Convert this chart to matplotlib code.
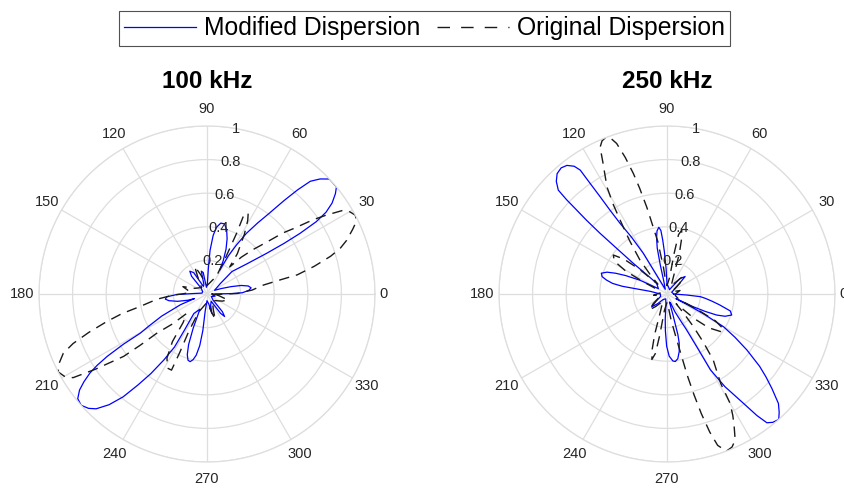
import numpy as np
import matplotlib.pyplot as plt
from matplotlib.lines import Line2D

plt.rcParams['font.family'] = ['Liberation Sans', 'DejaVu Sans']

# directivity patterns, (angle in degrees, normalised amplitude), in plotting order
mod_100 = [(0, 0.03), (1, 0.15), (2, 0.21), (5, 0.25), (8, 0.265), (11, 0.25), (14, 0.21),
           (17, 0.15), (21, 0.09), (26, 0.05), (38, 0.1), (42, 0.2), (37, 0.3), (34.3, 0.43),
           (33.3, 0.55), (33.1, 0.66), (33.5, 0.78), (34.5, 0.86), (36, 0.92), (38, 0.97),
           (39.6, 1.0), (41.5, 1.0), (43.2, 1.0), (45.5, 0.96), (47.5, 0.91), (49, 0.82),
           (50.5, 0.72), (52.5, 0.6), (54.5, 0.52), (57, 0.43), (59, 0.34), (60.8, 0.26),
           (61.8, 0.16), (64, 0.22), (67, 0.29), (70, 0.35), (73, 0.4), (76, 0.43), (79, 0.43),
           (82, 0.4), (84, 0.35), (86, 0.26), (87, 0.15), (88, 0.06), (95, 0.04), (100, 0.13),
           (104, 0.14), (108, 0.06), (115, 0.05), (122, 0.15), (127, 0.17), (131, 0.14),
           (135, 0.05), (150, 0.03), (170, 0.03), (178, 0.08), (181, 0.18), (184, 0.24),
           (187, 0.25), (190, 0.23), (194, 0.18), (198, 0.12), (200, 0.08), (202, 0.17),
           (206, 0.3), (209, 0.4), (210.4, 0.46), (211, 0.58), (212, 0.7), (213, 0.78),
           (214, 0.84), (215.5, 0.9), (217, 0.95), (219, 0.99), (221.5, 1.0), (224, 0.98),
           (226, 0.95), (228.5, 0.88), (230.8, 0.79), (232.8, 0.68), (234.8, 0.58),
           (236.8, 0.47), (238.5, 0.37), (238, 0.25), (236, 0.14), (245, 0.1), (248, 0.22),
           (250, 0.32), (252, 0.38), (254, 0.41), (256, 0.415), (258, 0.4), (260, 0.37),
           (262, 0.31), (263.5, 0.22), (264, 0.1), (270, 0.04), (280, 0.06), (284, 0.12),
           (288, 0.07), (300, 0.05), (305, 0.14), (308, 0.17), (311, 0.14), (315, 0.05),
           (330, 0.03), (345, 0.05), (360, 0.03)]

orig_100 = [(350, 0.03), (0, 0.1), (1, 0.18), (5, 0.27), (9, 0.34), (11, 0.45), (12, 0.55),
            (14.5, 0.66), (17, 0.77), (19, 0.84), (21, 0.89), (24, 0.95), (26, 0.99), (28, 1.0),
            (30, 0.98), (31.6, 0.95), (33.5, 0.85), (35, 0.77), (37, 0.65), (38.8, 0.58),
            (41, 0.47), (44, 0.38), (47, 0.3), (50, 0.21), (53, 0.3), (58, 0.42), (61, 0.5),
            (63, 0.54), (65, 0.52), (64, 0.4), (63, 0.25), (62, 0.12), (90, 0.05), (108, 0.12),
            (114, 0.18), (118, 0.12), (130, 0.05), (155, 0.08), (163, 0.15), (168, 0.12),
            (175, 0.1), (180, 0.15), (181.7, 0.2), (186, 0.3), (190.7, 0.41), (193, 0.52),
            (195.4, 0.62), (198, 0.74), (200.3, 0.85), (202.4, 0.925), (205, 0.97),
            (207.6, 1.0), (210, 0.98), (212, 0.94), (214, 0.8), (216.8, 0.62), (217.5, 0.5),
            (218, 0.38), (221, 0.27), (223.6, 0.17), (230, 0.22), (234, 0.35), (238, 0.45),
            (242, 0.5), (245, 0.5), (245, 0.38), (244, 0.25), (245, 0.12), (270, 0.05),
            (285, 0.12), (288, 0.16), (292, 0.1), (310, 0.05), (335, 0.1), (344, 0.13),
            (350, 0.08), (360, 0.05)]

mod_250 = [(0, 0.04), (20, 0.03), (38, 0.08), (44, 0.15), (50, 0.12), (55, 0.05), (60, 0.03),
           (75, 0.04), (90, 0.06), (92, 0.15), (93.5, 0.25), (94.5, 0.32), (95.5, 0.38),
           (97, 0.4), (99, 0.38), (100.5, 0.34), (102, 0.28), (103, 0.18), (104, 0.08),
           (110, 0.03), (118, 0.1), (120.2, 0.28), (122, 0.4), (123.6, 0.505), (124.2, 0.6),
           (124.5, 0.7), (124.8, 0.8), (125, 0.9), (126, 0.94), (127.9, 0.97), (130, 0.98),
           (132.4, 0.97), (134.5, 0.94), (136.3, 0.895), (136.8, 0.82), (137, 0.76),
           (137.5, 0.65), (137.8, 0.54), (137.8, 0.4), (137.7, 0.27), (136, 0.15), (134, 0.09),
           (148, 0.06), (153, 0.18), (156, 0.27), (158, 0.33), (160, 0.38), (162.4, 0.41),
           (165, 0.4), (167, 0.37), (169, 0.33), (170.2, 0.27), (170.4, 0.2), (171, 0.1),
           (180, 0.04), (200, 0.04), (214, 0.08), (220, 0.12), (226, 0.08), (235, 0.04),
           (255, 0.03), (264, 0.06), (266, 0.15), (267.5, 0.22), (269.6, 0.31), (272, 0.37),
           (275, 0.4), (277, 0.405), (279.5, 0.39), (282, 0.35), (284, 0.3), (285, 0.25),
           (286, 0.12), (287, 0.05), (292, 0.06), (294, 0.115), (297, 0.18), (298.6, 0.24),
           (299.5, 0.38), (299.8, 0.52), (302, 0.65), (304.9, 0.79), (306.5, 0.9),
           (307.8, 0.97), (309.5, 0.99), (311.7, 1.0), (313.5, 0.97), (315.5, 0.93),
           (318, 0.84), (320, 0.77), (322, 0.7), (325, 0.58), (327.5, 0.48), (329.9, 0.39),
           (331.5, 0.25), (332.6, 0.12), (332.8, 0.06), (333.5, 0.1), (334, 0.17),
           (335.5, 0.25), (337, 0.32), (339, 0.37), (342, 0.405), (345, 0.39), (348.3, 0.32),
           (351, 0.27), (353.5, 0.23), (355.4, 0.2), (357, 0.12), (359, 0.05), (360, 0.04)]

orig_250 = [(0, 0.05), (15, 0.08), (25, 0.03), (40, 0.1), (48, 0.14), (55, 0.08), (62, 0.05),
            (70, 0.12), (73, 0.25), (75, 0.33), (77, 0.39), (79, 0.36), (80, 0.25), (81, 0.1),
            (90, 0.05), (96, 0.08), (97.6, 0.16), (100, 0.32), (103.1, 0.53), (104.5, 0.65),
            (105.6, 0.745), (107, 0.85), (108.5, 0.945), (110, 0.99), (111.5, 1.0), (113, 0.99),
            (114.5, 0.96), (116, 0.87), (117.5, 0.8), (119.3, 0.73), (121, 0.62), (122.4, 0.52),
            (125, 0.39), (128.5, 0.26), (131, 0.15), (133, 0.08), (135, 0.1), (138, 0.22),
            (141, 0.33), (144, 0.395), (148, 0.37), (151, 0.28), (153, 0.15), (155, 0.06),
            (170, 0.04), (185, 0.08), (195, 0.04), (215, 0.1), (222, 0.14), (228, 0.1),
            (240, 0.05), (250, 0.12), (253, 0.25), (255, 0.34), (257, 0.4), (259, 0.36),
            (260, 0.25), (261, 0.1), (270, 0.05), (276, 0.08), (279, 0.16), (282, 0.28),
            (284, 0.5), (285, 0.62), (286, 0.74), (287.2, 0.86), (288.5, 0.95), (290.7, 1.0),
            (293, 0.99), (295, 0.96), (297, 0.88), (298.5, 0.82), (300, 0.75), (301, 0.62),
            (303, 0.54), (305, 0.48), (307, 0.36), (309, 0.25), (311, 0.15), (313, 0.08),
            (315, 0.1), (318, 0.22), (321, 0.32), (325, 0.39), (328, 0.4), (331, 0.33),
            (333, 0.2), (335, 0.08), (350, 0.05), (360, 0.05)]

titles = ['100 kHz', '250 kHz']
r_ticks = [0.2, 0.4, 0.6, 0.8, 1.0]
r_labels = ['0.2', '0.4', '0.6', '0.8', '1']
theta_ticks = list(range(0, 360, 30))

grid_col = '#dedede'
text_col = '#262626'
dash = (0, (7.5, 5))

fig = plt.figure(figsize=(8.45, 4.88), dpi=100)

W, H = 845, 488
centers = [(207, 294), (667, 294)]
R = 168

for (cx, cy), title, mod, orig in zip(centers, titles, [mod_100, mod_250], [orig_100, orig_250]):
    ax = fig.add_axes([(cx - R) / W, (H - cy - R) / H, 2 * R / W, 2 * R / H], projection='polar')
    t, r = np.array(mod).T
    ax.plot(np.deg2rad(t), r, color='#0000ff', lw=0.9)
    t, r = np.array(orig).T
    ax.plot(np.deg2rad(t), r, color='#1a1a1a', lw=1.0, ls=dash)
    ax.set_rlim(0, 1)
    ax.set_rticks(r_ticks)
    ax.set_yticklabels([])
    ax.set_thetagrids(theta_ticks, [''] * len(theta_ticks))
    ax.grid(color=grid_col, lw=0.9)
    ax.spines['polar'].set_color(grid_col)
    ax.spines['polar'].set_linewidth(0.9)
    # angle labels sit at a fixed radius outside the rim, like MATLAB's polarplot
    for a in theta_ticks:
        lab = str(a)
        ax.text(np.deg2rad(a), 1.05 if len(lab) == 1 else 1.1, lab, ha='center', va='center',
                fontsize=10.5, color=text_col, clip_on=False)
    for rv, lab in zip(r_ticks, r_labels):
        ax.text(np.deg2rad(80), rv, lab, ha='center', va='center', fontsize=10.5,
                color=text_col, clip_on=False)
    fig.text(cx / W, 1 - 82 / H, title, ha='center', va='center', fontsize=17.5,
             fontweight='bold')

handles = [Line2D([], [], color='#0000ff', lw=0.9),
           Line2D([], [], color='#1a1a1a', lw=1.0, ls=(0, (9, 8)))]
leg = fig.legend(handles, ['Modified Dispersion', 'Original Dispersion'], ncol=2,
                 loc='center', bbox_to_anchor=(424.5 / W, 1 - 28.5 / H), fontsize=17.8,
                 frameon=True, fancybox=False, handlelength=2.9, handletextpad=0.32,
                 columnspacing=0.7, borderpad=0.22, borderaxespad=0)
leg.get_frame().set_edgecolor(text_col)
leg.get_frame().set_linewidth(0.8)

fig.savefig('out.png', dpi=100)
